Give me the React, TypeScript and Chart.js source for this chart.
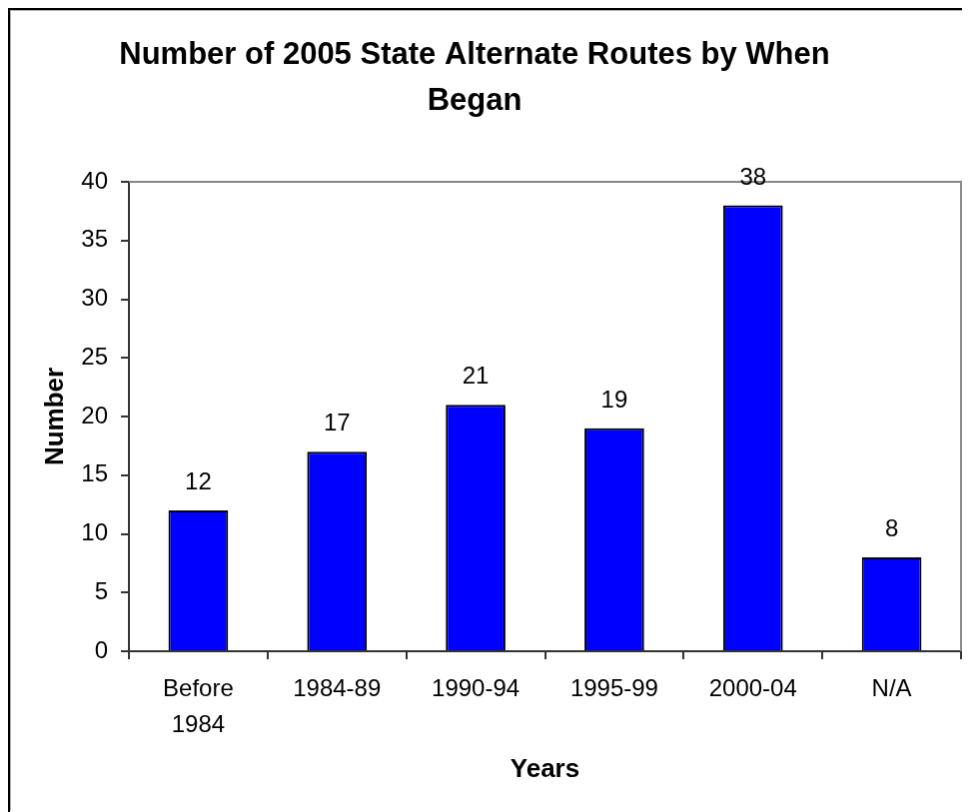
import React, { useEffect, useRef } from "react";
import { Chart, registerables } from "chart.js";

Chart.register(...registerables);

const categories: (string | string[])[] = [["Before", "1984"], "1984-89", "1990-94", "1995-99", "2000-04", "N/A"];
const values: number[] = [12, 17, 21, 19, 38, 8];
const titleLines: string[] = ["Number of 2005 State Alternate Routes by When", "Began"];
const yTitle = "Number";
const xTitle = "Years";

const FONT = "'Liberation Sans', Arial, sans-serif";

export default function App() {
  const ref = useRef<HTMLCanvasElement | null>(null);

  useEffect(() => {
    if (!ref.current) return;

    const titlePlugin = {
      id: "titleLines",
      afterDraw(chart: any) {
        const ctx = chart.ctx;
        ctx.save();
        ctx.fillStyle = "#000";
        ctx.font = `bold 31px ${FONT}`;
        ctx.textAlign = "center";
        ctx.textBaseline = "alphabetic";
        ctx.fillText(titleLines[0], 464, 53);
        ctx.fillText(titleLines[1], 464, 99);
        ctx.restore();
      },
    };

    const borderPlugin = {
      id: "plotBorder",
      beforeDatasetsDraw(chart: any) {
        const { ctx, chartArea } = chart;
        ctx.save();
        ctx.strokeStyle = "#888";
        ctx.lineWidth = 2;
        ctx.beginPath();
        ctx.moveTo(chartArea.left, chartArea.top);
        ctx.lineTo(chartArea.right, chartArea.top);
        ctx.lineTo(chartArea.right, chartArea.bottom);
        ctx.stroke();
        ctx.restore();
      },
    };

    const labelPlugin = {
      id: "valueLabels",
      afterDatasetsDraw(chart: any) {
        const ctx = chart.ctx;
        const meta = chart.getDatasetMeta(0);
        ctx.save();
        ctx.fillStyle = "#000";
        ctx.font = `24px ${FONT}`;
        ctx.textAlign = "center";
        ctx.textBaseline = "alphabetic";
        meta.data.forEach((bar: any, i: number) => {
          ctx.fillText(String(values[i]), bar.x, bar.y - 21);
        });
        ctx.restore();
      },
    };

    const chart = new Chart(ref.current, {
      type: "bar",
      data: {
        labels: categories as any,
        datasets: [
          {
            data: values,
            backgroundColor: "#0000FF",
            borderColor: "#000",
            borderWidth: 2,
            barPercentage: 0.43,
            categoryPercentage: 1,
          },
        ],
      },
      options: {
        responsive: false,
        animation: false,
        layout: { padding: { top: 171, right: 8, left: 0, bottom: 0 } },
        plugins: {
          legend: { display: false },
          title: { display: false },
          tooltip: { enabled: false },
        },
        scales: {
          x: {
            grid: {
              display: true,
              drawOnChartArea: false,
              drawTicks: true,
              tickLength: 8,
              color: "#333",
              lineWidth: 2,
              offset: true,
            },
            border: { display: true, color: "#333", width: 2 },
            ticks: {
              color: "#000",
              font: { family: FONT, size: 24, lineHeight: 1.5 },
              padding: 12,
              maxRotation: 0,
              autoSkip: false,
            },
            title: {
              display: true,
              text: xTitle,
              color: "#000",
              font: { family: FONT, size: 26, weight: "bold", lineHeight: 1.2 },
              padding: { top: 0, bottom: 26 },
            },
            afterFit(scale: any) {
              scale.height = 160;
            },
          },
          y: {
            min: 0,
            max: 40,
            ticks: {
              stepSize: 5,
              color: "#000",
              font: { family: FONT, size: 24 },
              padding: 13,
            },
            grid: {
              display: true,
              drawOnChartArea: false,
              drawTicks: true,
              tickLength: 8,
              color: "#333",
              lineWidth: 2,
            },
            border: { display: true, color: "#333", width: 2 },
            title: {
              display: true,
              text: yTitle,
              color: "#000",
              font: { family: FONT, size: 26, weight: "bold", lineHeight: 1.2 },
              padding: { top: 29, bottom: 0 },
            },
            afterFit(scale: any) {
              scale.width = 118;
            },
          },
        },
      },
      plugins: [borderPlugin, labelPlugin, titlePlugin],
    });

    return () => chart.destroy();
  }, []);

  return (
    <div
      style={{
        width: 962,
        height: 804,
        boxSizing: "border-box",
        borderLeft: "2px solid #000",
        borderTop: "2px solid #000",
        background: "#fff",
      }}
    >
      <canvas
        ref={ref}
        width={959}
        height={801}
        style={{
          display: "block",
          width: 959,
          height: 801,
          borderLeft: "1px solid #b0b0b0",
          borderTop: "1px solid #b0b0b0",
        }}
      />
    </div>
  );
}
